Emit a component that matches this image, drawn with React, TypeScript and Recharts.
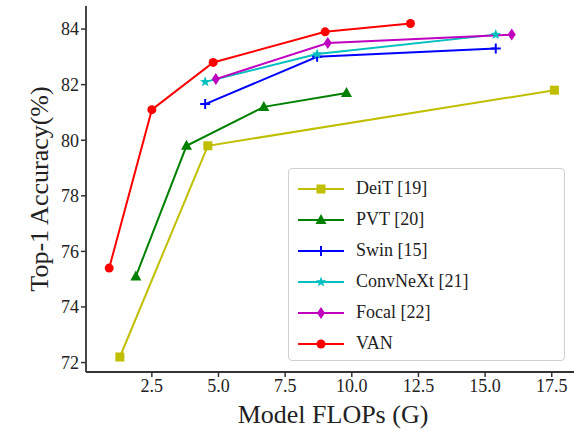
import React from 'react';
import { LineChart, Line, XAxis, YAxis, Legend, Label } from 'recharts';

const FONT = 'Liberation Serif, DejaVu Serif, Times New Roman, serif';

const seriesNames = ['DeiT [19]', 'PVT [20]', 'Swin [15]', 'ConvNeXt [21]', 'Focal [22]', 'VAN'];
const seriesColors = ['#bfbf00', '#008000', '#0000ff', '#00bfbf', '#bf00bf', '#ff0000'];
const seriesMarkers = ['square', 'triangle', 'plus', 'star', 'diamond', 'circle'];

const deitFlops = [1.3, 4.6, 17.6];
const deitAcc = [72.2, 79.8, 81.8];
const pvtFlops = [1.9, 3.8, 6.7, 9.8];
const pvtAcc = [75.1, 79.8, 81.2, 81.7];
const swinFlops = [4.5, 8.7, 15.4];
const swinAcc = [81.3, 83.0, 83.3];
const convnextFlops = [4.5, 8.7, 15.4];
const convnextAcc = [82.1, 83.1, 83.8];
const focalFlops = [4.9, 9.1, 16.0];
const focalAcc = [82.2, 83.5, 83.8];
const vanFlops = [0.9, 2.5, 4.8, 9.0, 12.2];
const vanAcc = [75.4, 81.1, 82.8, 83.9, 84.2];

const xTicks = [2.5, 5.0, 7.5, 10.0, 12.5, 15.0, 17.5];
const yTicks = [72, 74, 76, 78, 80, 82, 84];

const allFlops = [deitFlops, pvtFlops, swinFlops, convnextFlops, focalFlops, vanFlops];
const allAcc = [deitAcc, pvtAcc, swinAcc, convnextAcc, focalAcc, vanAcc];

const series = seriesNames.map((name, i) => ({
  name,
  color: seriesColors[i],
  marker: seriesMarkers[i],
  data: allFlops[i].map((x, j) => ({ x, y: allAcc[i][j] })),
}));

function Marker({ kind, cx, cy, color }: { kind: string; cx: number; cy: number; color: string }) {
  switch (kind) {
    case 'square':
      return <rect x={cx - 4.5} y={cy - 4.5} width={9} height={9} fill={color} />;
    case 'triangle':
      return <polygon points={`${cx},${cy - 6} ${cx + 5.5},${cy + 4} ${cx - 5.5},${cy + 4}`} fill={color} />;
    case 'plus':
      return <path d={`M${cx - 5},${cy}H${cx + 5}M${cx},${cy - 5}V${cy + 5}`} stroke={color} strokeWidth={2} fill="none" />;
    case 'star': {
      const pts: string[] = [];
      for (let k = 0; k < 10; k++) {
        const r = k % 2 === 0 ? 5.5 : 2.3;
        const a = -Math.PI / 2 + (k * Math.PI) / 5;
        pts.push(`${cx + r * Math.cos(a)},${cy + r * Math.sin(a)}`);
      }
      return <polygon points={pts.join(' ')} fill={color} />;
    }
    case 'diamond':
      return <polygon points={`${cx},${cy - 6} ${cx + 4},${cy} ${cx},${cy + 6} ${cx - 4},${cy}`} fill={color} />;
    default:
      return <circle cx={cx} cy={cy} r={4.5} fill={color} />;
  }
}

function LegendBox() {
  return (
    <div
      style={{
        width: 277,
        height: 193,
        boxSizing: 'border-box',
        border: '1px solid #d0d0d0',
        borderRadius: 4,
        background: '#fff',
        paddingTop: 4,
      }}
    >
      {series.map((s) => (
        <div key={s.name} style={{ display: 'flex', alignItems: 'center', height: 31, fontFamily: FONT, fontSize: 18, color: '#222' }}>
          <svg width={50} height={20} style={{ marginLeft: 8, marginRight: 9 }}>
            <line x1={1} y1={10} x2={47} y2={10} stroke={s.color} strokeWidth={2} />
            <Marker kind={s.marker} cx={24} cy={10} color={s.color} />
          </svg>
          <span>{s.name}</span>
        </div>
      ))}
    </div>
  );
}

export default function App() {
  return (
    <div style={{ position: 'absolute', left: 0, top: 0, width: 574, height: 431, overflow: 'hidden', background: '#fff' }}>
      <LineChart width={582} height={431} margin={{ top: 6, right: 2, bottom: 0, left: 0 }}>
        <XAxis
          dataKey="x"
          type="number"
          domain={[0.03, 18.56]}
          allowDataOverflow
          ticks={xTicks}
          tickFormatter={(v: number) => v.toFixed(1)}
          height={59}
          tickSize={5}
          tick={{ fontSize: 18, fill: '#222', fontFamily: FONT }}
          tickLine={{ stroke: '#333', strokeWidth: 1.5 }}
          axisLine={{ stroke: '#333', strokeWidth: 1.8 }}
        >
          <Label value="Model FLOPs (G)" position="insideBottom" offset={8} style={{ fontSize: 26, fill: '#222', fontFamily: FONT }} />
        </XAxis>
        <XAxis
          xAxisId="top"
          orientation="top"
          type="number"
          domain={[0.03, 18.56]}
          height={0}
          tick={false}
          tickLine={false}
          axisLine={{ stroke: '#777', strokeWidth: 2 }}
        />
        <YAxis
          type="number"
          domain={[71.66, 84.83]}
          allowDataOverflow
          ticks={yTicks}
          width={86}
          tickSize={5}
          tick={{ fontSize: 18, fill: '#222', fontFamily: FONT }}
          tickLine={{ stroke: '#333', strokeWidth: 1.5 }}
          axisLine={{ stroke: '#333', strokeWidth: 1.8 }}
        >
          <Label value="Top-1 Accuracy(%)" angle={-90} position="center" dx={-4} style={{ fontSize: 26, fill: '#222', fontFamily: FONT, textAnchor: 'middle' }} />
        </YAxis>
        <YAxis yAxisId="right" orientation="right" width={0} tick={false} tickLine={false} axisLine={{ stroke: '#777', strokeWidth: 2 }} />
        {series.map((s) => (
          <Line
            key={s.name}
            data={s.data}
            dataKey="y"
            name={s.name}
            stroke={s.color}
            strokeWidth={2}
            isAnimationActive={false}
            dot={(p: any) => <Marker key={`${s.name}-${p.index}`} kind={s.marker} cx={p.cx} cy={p.cy} color={s.color} />}
            activeDot={false}
          />
        ))}
        <Legend
          layout="vertical"
          align="center"
          verticalAlign="middle"
          wrapperStyle={{ position: 'absolute', left: 288, top: 168, width: 277, height: 193 }}
          content={() => <LegendBox />}
        />
      </LineChart>
    </div>
  );
}
